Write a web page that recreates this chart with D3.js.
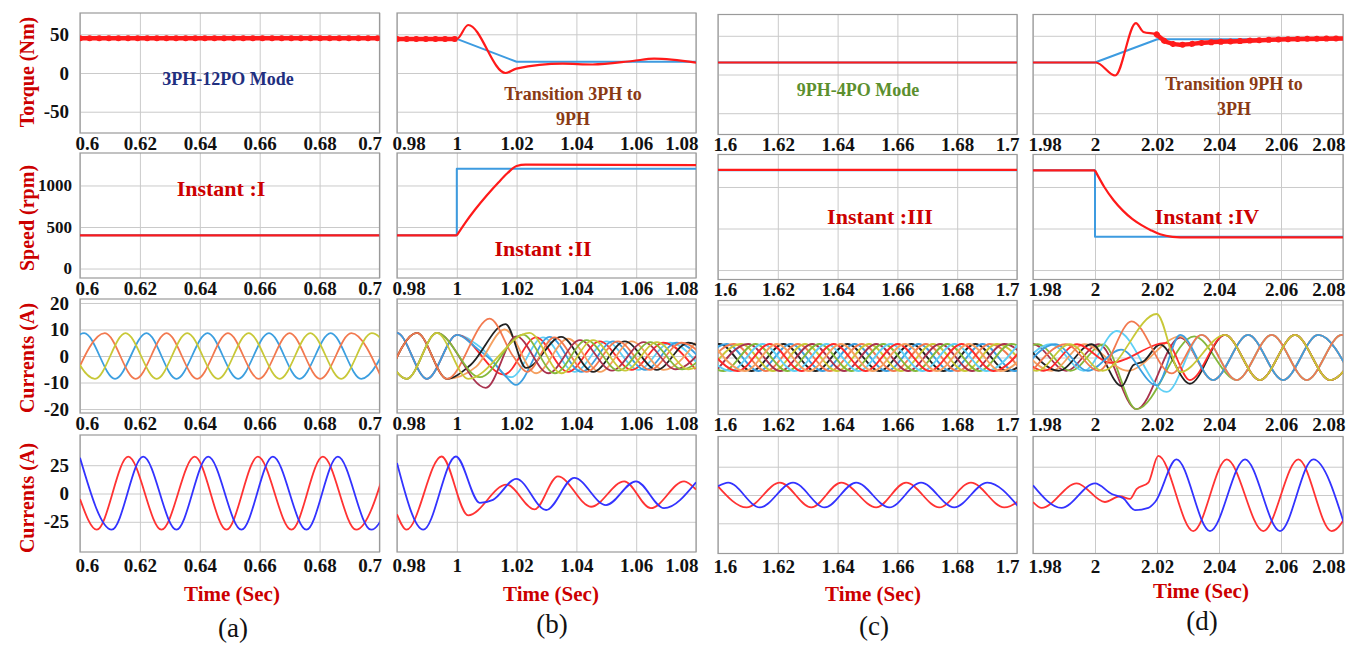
<!DOCTYPE html>
<html><head><meta charset="utf-8">
<script src="https://cdn.jsdelivr.net/npm/d3@7"></script>
<style>
body{margin:0;background:#fff}
svg{display:block}
text{font-family:"Liberation Serif","Times New Roman",serif}
</style>
</head><body>
<svg id="chart" width="1364" height="645"></svg>
<script>
// ---------------- DATA ----------------
const panelLabels = ["(a)", "(b)", "(c)", "(d)"];
const rowTitles = ["Torque (Nm)", "Speed (rpm)", "Currents (A)", "Currents (A)"];
const timeDomains = [[0.6, 0.7], [0.98, 1.08], [1.6, 1.7], [1.98, 2.08]];
const timeTicks = [
  [0.6, 0.62, 0.64, 0.66, 0.68, 0.7],
  [0.98, 1, 1.02, 1.04, 1.06, 1.08],
  [1.6, 1.62, 1.64, 1.66, 1.68, 1.7],
  [1.98, 2, 2.02, 2.04, 2.06, 2.08]];
const timeTickLabels = [
  ["0.6", "0.62", "0.64", "0.66", "0.68", "0.7"],
  ["0.98", "1", "1.02", "1.04", "1.06", "1.08"],
  ["1.6", "1.62", "1.64", "1.66", "1.68", "1.7"],
  ["1.98", "2", "2.02", "2.04", "2.06", "2.08"]];
const torqueTicks = [50, 0, -50];
const speedTicks = [1000, 500, 0];
const phaseCurTicks = [20, 10, 0, -10, -20];
const lineCurTicks = [25, 0, -25];
const modeNotes = [["3PH-12PO Mode"], ["Transition 3PH to", "9PH"], ["9PH-4PO Mode"], ["Transition 9PH to", "3PH"]];
const instantNotes = ["Instant :I", "Instant :II", "Instant :III", "Instant :IV"];

// Torque: reference (blue) and actual (red)
const torqueRef = [
  [[0.6, 45], [0.7, 45]],
  [[0.98, 44], [1.0, 44], [1.02, 14.5], [1.08, 14.5]],
  [[1.6, 15.5], [1.7, 15.5]],
  [[1.98, 15.5], [2.0, 15.5], [2.0201, 45.6], [2.08, 45.6]]];
const torqueAct = [
  [[0.6, 45], [0.7, 45]],
  [[0.98, 44], [1.0, 44], [1.0038, 62], [1.0163, 0], [1.0199, 5.6], [1.0354, 12], [1.0454, 11], [1.0588, 15.5], [1.066, 18.5], [1.08, 13.5]],
  [[1.6, 15.5], [1.7, 15.5]],
  [[1.98, 15.5], [2.0003, 15.5], [2.0065, -1.3], [2.0132, 66.4], [2.0156, 55], [2.0199, 51.8], [2.0231, 42], [2.0274, 38.5], [2.035, 41], [2.0457, 43], [2.0618, 45.6], [2.08, 46.5]]];
const torqueRipple = [[0.6, 0.7], [0.98, 1.0], null, [2.0199, 2.08]];

// Speed: reference (blue) and actual (red); split = time where the actual curve kinks
const speedRef = [
  [[0.6, 400], [0.7, 400]],
  [[0.98, 400], [1.0, 400], [1.0, 1200], [1.08, 1200]],
  [[1.6, 1200], [1.7, 1200]],
  [[1.98, 1200], [2.0, 1200], [2.0, 400], [2.08, 400]]];
const speedAct = [
  [[0.6, 400], [0.7, 400]],
  [[0.98, 400], [1.0, 400], [1.003, 560], [1.006, 705], [1.01, 880], [1.014, 1040], [1.017, 1150], [1.02, 1235], [1.023, 1252], [1.08, 1246]],
  [[1.6, 1205], [1.7, 1205]],
  [[1.98, 1200], [2.0, 1200], [2.003, 1000], [2.006, 840], [2.009, 715], [2.012, 615], [2.015, 540], [2.018, 480], [2.021, 430], [2.025, 400], [2.03, 392], [2.08, 392]]];
const speedSplit = [null, 1.0, null, 2.0];

// Phase currents (a): 3-phase (blue, orange, yellow)
const curA3 = [
  [[0.5911, -8.6], [0.6014, 8.6], [0.6117, -8.6], [0.6222, 8.6], [0.6322, -8.6], [0.6426, 8.6], [0.6528, -8.6], [0.6631, 8.6], [0.6733, -8.6], [0.6837, 8.6], [0.6939, -8.6], [0.7042, 8.6]],
  [[0.598, -8.6], [0.6083, 8.6], [0.6186, -8.6], [0.6289, 8.6], [0.6391, -8.6], [0.6494, 8.6], [0.6597, -8.6], [0.67, 8.6], [0.6802, -8.6], [0.6906, 8.6], [0.7008, -8.6]],
  [[0.5947, 8.6], [0.605, -8.6], [0.6152, 8.6], [0.6256, -8.6], [0.6358, 8.6], [0.6461, -8.6], [0.6563, 8.6], [0.6667, -8.6], [0.6769, 8.6], [0.6872, -8.6], [0.6974, 8.6], [0.7078, -8.6]]];
const curA3Colors = ["#3c9fe0", "#f2794f", "#c8c838"];

// Phase currents (b): 3PH -> 9PH transition
const curB9 = [
  [[0.97, -8.6], [0.98, 8.7], [0.99, -8.6], [1.0001, 8.0], [1.0077, 3.5], [1.0182, -8], [1.0288, 7], [1.0394, -6], [1.0501, 5.5], [1.0607, -5.2], [1.0714, 5], [1.082, -5]],
  [[0.97, -8.6], [0.98, 8.7], [0.99, -8.6], [1.0001, 8.0], [1.0158, -7], [1.0265, 7], [1.0372, -6], [1.0478, 5.5], [1.0585, -5.2], [1.0691, 5], [1.0798, -5]],
  [[0.97, -8.6], [0.98, 8.7], [0.99, -8.6], [1.0001, 8.0], [1.0066, 3], [1.0121, -2.2], [1.0166, -8], [1.0197, -10.9], [1.031, 7.2], [1.0417, -6], [1.0523, 5.5], [1.063, -5.2], [1.0736, 5], [1.0843, -5]],
  [[0.9767, -8.6], [0.9867, 8.7], [0.9967, -8.6], [1.0065, -4], [1.016, 10], [1.0265, -6.5], [1.0372, 6.5], [1.0479, -6], [1.0585, 5.5], [1.0692, -5.2], [1.0798, 5]],
  [[0.9767, -8.6], [0.9867, 8.7], [0.9967, -8.6], [1.0045, -3.5], [1.0163, 12], [1.0232, -4.5], [1.0349, 7.2], [1.0456, -6], [1.0562, 5.5], [1.0669, -5.2], [1.0775, 5], [1.0882, -5]],
  [[0.9767, -8.6], [0.9867, 8.7], [0.9967, -8.6], [1.011, 14.1], [1.0188, 0], [1.0235, -6], [1.0326, 7], [1.0433, -6], [1.0539, 5.5], [1.0646, -5.2], [1.0752, 5], [1.0859, -5]],
  [[0.9733, 8.7], [0.9833, -8.6], [0.9933, 8.7], [1.0097, -12], [1.0199, 7.4], [1.0306, -6.5], [1.0412, 6], [1.0519, -5.5], [1.0625, 5.2], [1.0732, -5], [1.0838, 5]],
  [[0.9733, 8.7], [0.9833, -8.6], [0.9933, 8.7], [1.0077, -8], [1.0221, 8.1], [1.0328, -6.5], [1.0434, 6], [1.0541, -5.5], [1.0647, 5.2], [1.0754, -5], [1.086, 5]],
  [[0.9733, 8.7], [0.9833, -8.6], [0.9933, 8.7], [1.0038, -8.6], [1.0243, 8.7], [1.035, -6.5], [1.0456, 6], [1.0563, -5.5], [1.0669, 5.2], [1.0776, -5], [1.0882, 5]]];
const curB9Colors = ["#5fcff5", "#ff2a2a", "#3c9fe0", "#f5a060", "#222222", "#f2794f", "#a8324e", "#84b83c", "#c8c838"];

// Phase currents (c): 9-phase steady state, extremum times per phase (alternating sign)
const curC9Times = [
  [1.5898, 1.6005, 1.6112, 1.6219, 1.6326, 1.6433, 1.6540, 1.6647, 1.6754, 1.6861, 1.6968, 1.7075],
  [1.5922, 1.6029, 1.6136, 1.6243, 1.6350, 1.6457, 1.6564, 1.6671, 1.6778, 1.6885, 1.6992, 1.7099],
  [1.5946, 1.6053, 1.6160, 1.6267, 1.6374, 1.6481, 1.6588, 1.6695, 1.6802, 1.6909, 1.7016],
  [1.5970, 1.6077, 1.6184, 1.6291, 1.6398, 1.6505, 1.6612, 1.6719, 1.6826, 1.6933, 1.7040],
  [1.5994, 1.6101, 1.6208, 1.6315, 1.6422, 1.6529, 1.6636, 1.6743, 1.6850, 1.6957, 1.7064],
  [1.5911, 1.6018, 1.6125, 1.6232, 1.6339, 1.6446, 1.6553, 1.6660, 1.6767, 1.6874, 1.6981, 1.7088],
  [1.5935, 1.6042, 1.6149, 1.6256, 1.6363, 1.6470, 1.6577, 1.6684, 1.6791, 1.6898, 1.7005],
  [1.5959, 1.6066, 1.6173, 1.6280, 1.6387, 1.6494, 1.6601, 1.6708, 1.6815, 1.6922, 1.7029],
  [1.5983, 1.6090, 1.6197, 1.6304, 1.6411, 1.6518, 1.6625, 1.6732, 1.6839, 1.6946, 1.7053]];
const curC9FirstSign = [-1, -1, -1, -1, -1, 1, 1, 1, 1];
const curC9Amp = 5.1;
const curC9Colors = ["#222222", "#3c9fe0", "#f2794f", "#c8c838", "#a8324e", "#84b83c", "#5fcff5", "#ff2a2a", "#f5a060"];

// Phase currents (d): 9PH -> 3PH transition
const curD9 = [
  [[1.9693, -5], [1.98, 5], [1.9907, -5], [2.0013, 5], [2.0134, -19.5], [2.0275, 7.5], [2.0381, -8.5], [2.0494, 8.5], [2.0607, -8.5], [2.072, 8.5], [2.0833, -8.5]],
  [[1.9707, -5], [1.9814, 5], [1.9921, -5], [2.0027, 4.9], [2.0134, -19.5], [2.032, 8], [2.0457, -8.5], [2.057, 8.5], [2.0683, -8.5], [2.0796, 8.5], [2.0909, -8.5]],
  [[1.975, -5], [1.9857, 5], [1.9964, -5], [2.007, 10], [2.0231, -13], [2.0344, 8.5], [2.0457, -8.5], [2.057, 8.5], [2.0683, -8.5], [2.0796, 8.5], [2.0909, -8.5]],
  [[1.9753, 5], [1.986, -5], [1.9966, 5], [2.0105, -5], [2.0275, 8], [2.0381, -8.5], [2.0494, 8.5], [2.0607, -8.5], [2.072, 8.5], [2.0833, -8.5]],
  [[1.9776, 5], [1.9883, -5], [1.9989, 5], [2.0086, -10.8], [2.0124, -2.8], [2.0156, -1.5], [2.021, 4.9], [2.0306, -9.9], [2.0419, 8.5], [2.0532, -8.5], [2.0645, 8.5], [2.0758, -8.5], [2.0871, 8.5]],
  [[1.9729, 5], [1.9835, -5], [1.9942, 5], [2.0049, -2], [2.0231, 5.5], [2.0306, -8.5], [2.0419, 8.5], [2.0532, -8.5], [2.0645, 8.5], [2.0758, -8.5], [2.0871, 8.5]],
  [[1.9764, -5], [1.9871, 5], [1.9977, -5], [2.0084, 3], [2.0199, -10.5], [2.0275, 8.5], [2.0381, -8.5], [2.0494, 8.5], [2.0607, -8.5], [2.072, 8.5], [2.0833, -8.5]],
  [[1.9798, -5], [1.9905, 5], [2.0012, -5], [2.0118, 13.6], [2.0247, -6], [2.0344, 8.5], [2.0457, -8.5], [2.057, 8.5], [2.0683, -8.5], [2.0796, 8.5], [2.0909, -8.5]],
  [[1.9705, 5], [1.9812, -5], [1.9918, 5], [2.0025, -5], [2.0199, 16.4], [2.0275, -5.5], [2.0419, 8.5], [2.0532, -8.5], [2.0645, 8.5], [2.0758, -8.5], [2.0871, 8.5]]];
const curD9Colors = ["#a8324e", "#84b83c", "#5fcff5", "#f5a060", "#222222", "#ff2a2a", "#3c9fe0", "#f2794f", "#c8c838"];

// Line currents (bottom row): red and blue
const lineRed = [
  [[0.6, -5], [0.6056, -32], [0.6161, 32.5], [0.6272, -32], [0.6383, 32.5], [0.6489, -32], [0.6594, 32.5], [0.6706, -32], [0.6811, 32.5], [0.6922, -32], [0.7031, 32.5]],
  [[0.98, -18.4], [0.9832, -32], [0.9949, 32.7], [1.0038, -19.3], [1.0166, 7.9], [1.026, -14], [1.0338, 15.2], [1.0449, -11.7], [1.056, 10.8], [1.0649, -13], [1.076, 10.8], [1.08, 3.5]],
  [[1.6, 7.7], [1.6096, -11], [1.6207, 11], [1.6312, -11], [1.6412, 11], [1.6529, -11], [1.6629, 11], [1.674, -11], [1.6846, 11], [1.6957, -11], [1.7063, 11]],
  [[1.98, -6.2], [1.9828, -11.4], [1.9941, 10.3], [2.0032, -6.2], [2.008, -1.1], [2.0113, -3.4], [2.0134, 5.2], [2.0172, 10.9], [2.0204, 34.6], [2.0317, -31.9], [2.0425, 31.4], [2.0543, -31.9], [2.0656, 31.4], [2.0763, -31.9], [2.0876, 31.4]]];
const lineBlue = [
  [[0.6, 31.5], [0.6106, -32], [0.6211, 32.5], [0.6322, -32], [0.6428, 32.5], [0.6539, -32], [0.6644, 32.5], [0.6756, -32], [0.6861, 32.5], [0.6972, -32], [0.7078, 32.5]],
  [[0.98, 26.9], [0.9888, -32], [0.9997, 32.7], [1.0077, -8.2], [1.0121, -5.6], [1.0199, 12.9], [1.0299, -14.6], [1.0393, 13.8], [1.0499, -10.2], [1.0599, 10.8], [1.0693, -13], [1.08, 9.9]],
  [[1.6, 7.7], [1.6034, 11], [1.614, -11], [1.6251, 11], [1.6357, -11], [1.6462, 11], [1.6573, -11], [1.6679, 11], [1.679, -11], [1.6901, 11], [1.7007, -11]],
  [[1.98, 8.6], [1.9892, -11.4], [2.0, 10.3], [2.0054, 0.9], [2.0091, -2.9], [2.0129, -13.4], [2.0172, -11.4], [2.0194, -6.2], [2.0263, 31.4], [2.0371, -31.9], [2.0484, 31.4], [2.0597, -31.9], [2.0704, 31.4], [2.0811, -31.9]]];

// ---------------- LAYOUT ----------------
const colLeft = [80, 397, 718, 1033];
const colRight = [379.5, 696, 1017, 1343];
const colDy = [0, 0, 1.5, 1.5];
const rowTop = [13, 153, 299, 435];
const rowBottom = [133, 278, 413, 552];
const rowDomain = [[-77.5, 77.5], [-114, 1391], [-21.5, 21.5], [-51.7, 51.7]];
const rowGrid = [torqueTicks, speedTicks, phaseCurTicks, lineCurTicks];
const rowTickFont = [19, 17, 19, 19];
const tickLabelY = [149.5, 294.5, 429.5, 571.5];
const RED_TXT = "#cc0000";

const c9Series = curC9Times.map((ts, k) => ts.map((t, i) => [t, (i % 2 === 0 ? curC9FirstSign[k] : -curC9FirstSign[k]) * curC9Amp]));

const svg = d3.select("#chart");
const defs = svg.append("defs");

function makePanel(col, row) {
  const dy = colDy[col];
  const x = d3.scaleLinear().domain(timeDomains[col]).range([colLeft[col], colRight[col]]);
  const y = d3.scaleLinear().domain(rowDomain[row]).range([rowBottom[row] + dy, rowTop[row] + dy]);
  const id = "clip" + col + "_" + row;
  defs.append("clipPath").attr("id", id).append("rect")
    .attr("x", colLeft[col]).attr("y", rowTop[row] + dy)
    .attr("width", colRight[col] - colLeft[col]).attr("height", rowBottom[row] - rowTop[row]);
  const g = svg.append("g");
  const gx = g.append("g").attr("transform", `translate(0,${rowBottom[row] + dy})`)
    .call(d3.axisBottom(x).tickValues(timeTicks[col]).tickSize(-(rowBottom[row] - rowTop[row])).tickFormat(""));
  const gy = g.append("g").attr("transform", `translate(${colLeft[col]},0)`)
    .call(d3.axisLeft(y).tickValues(rowGrid[row]).tickSize(-(colRight[col] - colLeft[col])).tickFormat(""));
  [gx, gy].forEach(a => { a.select(".domain").remove(); a.selectAll("line").attr("stroke", "#cacaca").attr("stroke-width", 1); });
  g.append("rect").attr("x", colLeft[col]).attr("y", rowTop[row] + dy)
    .attr("width", colRight[col] - colLeft[col]).attr("height", rowBottom[row] - rowTop[row])
    .attr("fill", "none").attr("stroke", "#9a9a9a").attr("stroke-width", 1.2);
  const ax = g.append("g").attr("transform", `translate(0,${tickLabelY[row] + dy})`)
    .call(d3.axisBottom(x).tickValues(timeTicks[col]).tickSize(0).tickPadding(0)
      .tickFormat((d, i) => timeTickLabels[col][i]));
  ax.select(".domain").remove();
  ax.selectAll("text").attr("y", 0).attr("dy", 0).attr("fill", "#111")
    .style("font-size", "19px").style("font-weight", "bold")
    .style("font-family", '"Liberation Serif","Times New Roman",serif');
  ax.selectAll(".tick").each(function (d) {
    const t = d3.select(this).select("text");
    const w = t.node().getComputedTextLength();
    const cx = x(d);
    const lo = colLeft[col] + w / 2 - 5, hi = colRight[col] - w / 2 + 2;
    const nx = Math.max(lo, Math.min(hi, cx));
    t.attr("x", nx - cx);
  });
  if (col === 0) {
    rowGrid[row].forEach(v => {
      g.append("text").attr("x", row === 1 ? 72 : 69).attr("y", y(v)).attr("dy", "0.35em")
        .attr("text-anchor", "end").attr("fill", "#111")
        .style("font-size", rowTickFont[row] + "px").style("font-weight", "bold").text(v);
    });
  }
  const plot = svg.append("g").attr("clip-path", `url(#${id})`);
  return { x, y, plot, g };
}

function drawLine(p, data, color, width, curve) {
  const ln = d3.line().x(d => p.x(d[0])).y(d => p.y(d[1])).curve(curve || d3.curveMonotoneX);
  return p.plot.append("path").datum(data).attr("d", ln).attr("fill", "none")
    .attr("stroke", color).attr("stroke-width", width).attr("stroke-linejoin", "round");
}

for (let col = 0; col < 4; col++) {
  // Row 1: torque
  let p = makePanel(col, 0);
  drawLine(p, torqueRef[col], "#3d9be0", 2, d3.curveLinear);
  drawLine(p, torqueAct[col], "#ff1a1a", 2.2);
  if (torqueRipple[col]) {
    const r = torqueRipple[col];
    const seg = torqueAct[col].filter(d => d[0] >= r[0] - 1e-9 && d[0] <= r[1] + 1e-9);
    drawLine(p, seg, "#ff1a1a", 4.5);
    drawLine(p, seg, "#ff1a1a", 6).attr("stroke-dasharray", "0.1 9.5").attr("stroke-linecap", "round");
  }
  const notes = modeNotes[col];
  const noteColor = ["#1f2f7f", "#8a3a14", "#5c8f2e", "#8a3a14"][col];
  const noteX = [228, 573, 858, 1234][col];
  const noteY = [[79], [94, 119], [90], [84, 109]][col];
  notes.forEach((s, i) => p.g.append("text").attr("x", noteX).attr("y", noteY[i]).attr("dy", "0.35em")
    .attr("text-anchor", "middle").attr("fill", noteColor)
    .style("font-size", "18px").style("font-weight", "bold").text(s));

  // Row 2: speed
  p = makePanel(col, 1);
  drawLine(p, speedRef[col], "#3d9be0", 2, d3.curveLinear);
  const sp = speedSplit[col];
  if (sp === null) {
    drawLine(p, speedAct[col], "#ff1a1a", 2.2);
  } else {
    drawLine(p, speedAct[col].filter(d => d[0] <= sp), "#ff1a1a", 2.2, d3.curveLinear);
    drawLine(p, speedAct[col].filter(d => d[0] >= sp), "#ff1a1a", 2.2);
  }
  const instX = [221, 543, 880, 1207][col];
  const instY = [188, 248, 216, 216][col];
  p.g.append("text").attr("x", instX).attr("y", instY).attr("dy", "0.35em")
    .attr("text-anchor", "middle").attr("fill", RED_TXT)
    .style("font-size", "22px").style("font-weight", "bold").text(instantNotes[col]);

  // Row 3: phase currents
  p = makePanel(col, 2);
  if (col === 0) curA3.forEach((s, i) => drawLine(p, s, curA3Colors[i], 1.8));
  if (col === 1) curB9.forEach((s, i) => drawLine(p, s, curB9Colors[i], 1.8));
  if (col === 2) c9Series.forEach((s, i) => drawLine(p, s, curC9Colors[i], 2));
  if (col === 3) curD9.forEach((s, i) => drawLine(p, s, curD9Colors[i], 1.8));

  // Row 4: line currents
  p = makePanel(col, 3);
  drawLine(p, lineRed[col], "#ff3333", 1.8);
  drawLine(p, lineBlue[col], "#3333ff", 1.8);
}

// Row titles
const titleY = [72, 218, 358, 498];
rowTitles.forEach((t, i) => {
  svg.append("text").attr("transform", `translate(27,${titleY[i]}) rotate(-90)`)
    .attr("dy", "0.35em").attr("text-anchor", "middle").attr("fill", RED_TXT)
    .style("font-size", "20px").style("font-weight", "bold").text(t);
});

// X titles and panel labels
const xTitleX = [232, 551, 873, 1201];
const xTitleY = [594, 594, 594, 591];
const panelLabelY = [628, 624, 626, 621];
panelLabels.forEach((lab, i) => {
  svg.append("text").attr("x", xTitleX[i]).attr("y", xTitleY[i]).attr("dy", "0.35em")
    .attr("text-anchor", "middle").attr("fill", RED_TXT)
    .style("font-size", "21px").style("font-weight", "bold").text("Time (Sec)");
  svg.append("text").attr("x", xTitleX[i] + 1).attr("y", panelLabelY[i]).attr("dy", "0.35em")
    .attr("text-anchor", "middle").attr("fill", "#111")
    .style("font-size", "27px").text(lab);
});
</script>
</body></html>
